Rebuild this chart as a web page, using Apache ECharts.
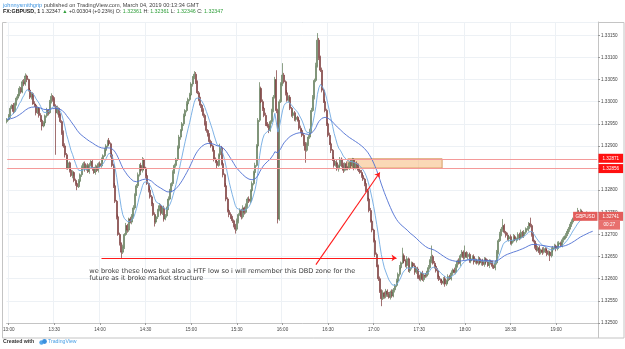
<!DOCTYPE html>
<html><head><meta charset="utf-8">
<script src="https://cdn.jsdelivr.net/npm/echarts@6/dist/echarts.min.js"></script>
<style>html,body{margin:0;padding:0;background:#fff}#c{width:625px;height:349px}</style>
</head><body><div id="c"></div>
<script>
// ---- data (prices as pipette offsets above 1.32000, i.e. 965 -> 1.32965) ----
const basePrice = 1.32;
const startMinute = 12 * 60 + 59;   // first category 12:59
const categoryCount = 389;
const firstOpen = 955;
const closes = [
960,968,985,992,978,995,1008,1015,1030,1022,
1045,1040,1058,1050,1026,1010,1018,995,992,975,
985,969,958,945,952,968,980,975,1000,1012,
1005,990,975,985,970,955,930,900,880,850,
862,845,833,840,822,815,808,820,835,850,
860,848,855,842,858,865,850,840,852,845,
860,855,870,878,890,900,912,905,880,856,
810,775,740,700,680,660,672,700,720,710,
735,728,742,760,790,810,835,856,845,868,
850,833,815,800,785,770,745,728,740,755,
765,748,760,735,742,760,780,799,815,840,
856,870,895,920,935,950,968,980,995,1005,
1015,1040,1055,1062,1045,1020,1005,992,980,969,
950,935,924,910,900,890,870,865,856,880,
895,860,835,810,780,754,745,738,731,720,
712,730,745,754,740,760,750,765,780,775,
799,815,840,856,900,958,1030,1000,985,969,
950,945,935,955,980,1010,1050,980,735,1000,
1040,1060,1045,1020,1003,1010,985,969,975,960,
965,958,940,935,924,905,890,905,920,935,
980,1010,1048,1080,1139,1100,1071,1026,1000,980,
950,924,905,890,870,856,862,848,855,870,
856,845,860,850,849,862,855,868,850,860,
856,845,840,833,825,815,799,780,754,730,
710,686,655,629,600,572,555,568,560,572,
565,558,570,561,575,585,595,610,625,636,
652,640,630,645,618,625,635,629,615,622,
605,600,612,598,608,606,615,625,640,650,
635,628,618,605,598,595,590,600,588,595,
605,600,613,620,615,629,640,635,652,660,
648,659,650,655,640,645,650,638,642,635,
645,636,640,632,645,638,630,640,636,628,
625,636,660,686,700,712,720,705,698,690,
695,680,686,695,688,690,700,692,705,697,
705,712,713,725,720,700,685,674,665,670,
659,665,660,668,663,655,660,652,665,670,
674,668,678,681,675,688,692,697,705,712,
720,728,735,736,742,750,745,752,740,738,
740,748,745,742,738,741];
const upWicks = [
3,4,6,2,5,3,4,2,5,3, 4,6,6,3,2,5,4,3,6,2, 4,3,5,2,4,3,6,3,4,7, 3,5,4,6,2,4,3,5,6,4,
7,3,4,5,3,4,2,5,3,6, 4,5,3,6,4,3,5,2,6,4, 3,5,4,3,6,4,2,6,3,5, 4,6,3,5,4,2,5,3,6,4,
3,5,4,6,3,4,5,3,6,7, 4,3,5,2,6,4,3,5,4,3, 6,4,3,5,4,3,6,4,3,5, 4,3,6,5,3,4,5,3,6,4,
5,4,3,7,5,3,4,6,3,5, 4,6,3,5,4,3,6,4,5,3, 10,5,4,3,6,4,3,5,4,3, 4,6,3,5,4,6,3,5,4,6,
3,5,4,6,4,5,14,4,5,3, 6,4,5,3,4,5,6,21,4,5, 4,27,5,3,6,4,5,3,6,4, 5,3,4,6,3,5,4,3,5,4,
6,5,4,8,16,5,4,6,3,5, 4,3,6,4,3,5,4,6,3,5, 4,6,3,5,4,3,6,5,4,3, 5,4,3,6,4,3,5,4,3,6,
4,3,5,4,3,5,4,6,3,5, 4,5,3,6,4,3,5,4,6,3, 18,5,4,6,3,5,4,3,6,4, 5,4,3,6,4,5,3,6,4,25,
4,5,3,6,4,3,5,4,6,3, 5,4,6,3,5,4,3,6,4,5, 4,16,3,5,4,6,3,5,4,3, 6,4,3,5,4,3,6,4,3,5,
4,6,5,4,6,5,15,4,3,6, 4,5,3,6,4,3,5,4,6,3, 5,4,6,3,13,4,5,3,6,4, 5,3,6,4,3,5,4,3,6,4,
5,3,6,4,3,5,4,6,3,5, 4,6,3,5,4,10,5,6,4,3, 5,4,3,6,4,3];
const downWicks = [
4,3,5,2,6,3,4,5,3,4, 3,5,4,6,3,4,5,2,4,6, 3,5,4,10,3,5,4,6,3,4, 5,3,95,4,6,3,5,4,6,3,
4,5,3,6,4,5,8,3,4,5, 3,6,4,3,5,4,6,3,5,4, 5,3,4,6,3,5,4,3,6,4, 5,4,6,3,5,13,4,5,3,6,
4,3,5,6,4,3,5,4,3,5, 4,6,3,5,4,6,3,10,4,5, 3,5,4,6,3,4,5,3,4,6, 3,5,4,3,6,4,5,3,4,5,
4,3,6,4,5,3,4,6,3,5, 4,5,3,6,4,3,5,4,6,3, 5,4,6,3,5,4,6,3,5,4, 10,4,5,3,6,4,5,3,6,4,
5,3,4,6,3,5,4,3,6,4, 5,4,6,3,5,4,3,6,10,4, 3,5,4,6,3,5,4,3,6,4, 5,3,4,6,4,5,28,3,5,4,
6,3,5,4,3,6,4,5,3,4, 5,4,3,6,4,5,3,4,6,3, 4,6,3,5,4,3,6,4,5,3, 6,4,3,5,4,6,3,5,4,3,
5,4,6,3,5,4,17,3,5,4, 6,3,5,4,3,6,4,3,5,4, 3,5,4,6,3,5,4,3,6,4, 5,4,6,3,5,4,3,6,4,5,
3,5,4,6,3,5,4,3,6,4, 5,3,4,6,3,5,4,3,6,4, 5,4,3,6,4,5,3,6,4,3, 5,4,6,3,5,4,3,6,4,5,
3,6,4,5,3,4,6,3,5,4, 6,3,5,4,3,6,4,5,3,4, 5,4,3,6,4,5,3,6,4,3, 5,4,6,3,5,4,3,12,4,5,
3,6,4,5,3,4,6,3,5,4, 6,3,5,4,3,6,4,5,3,4, 5,3,4,6,3,4];
const xTickLabels = ['13:00','13:30','14:00','14:30','15:00','15:30','16:00','16:30','17:00','17:30','18:00','18:30','19:00'];
const yMin = 1.3250, yMax = 1.3318, yStep = 0.0005;
const fastPeriod = 10, slowPeriod = 50;
const priceLines = [1.32871, 1.32850];
const priceLineTexts = ['1.32871', '1.32856'];
const zone = { from: '16:43', to: '17:45', top: 1.32871, bottom: 1.32850 };
const lastPrice = 1.32741, lastPriceText = '1.32741', symbolText = 'GBPUSD', countdownText = '00:27';
const lowsArrow = { from: '14:01', to: '17:15', price: 1.32647 };
const zoneArrow = { from: ['16:22', 1.32632], to: ['17:04', 1.32840] };
const note = { at: ['13:53', 1.32624], text: 'we broke these lows but also a HTF low so i will remember this DBD zone for the\nfuture as it broke market structure' };

// ---- build ----
const pad = n => String(n).padStart(2, '0');
const cats = Array.from({ length: categoryCount }, (_, i) => { const m = startMinute + i; return pad(Math.floor(m / 60)) + ':' + pad(m % 60); });
const toPrice = v => +(basePrice + v / 100000).toFixed(5);
const candles = closes.map((c, i) => {
  const o = i === 0 ? firstOpen : closes[i - 1];
  const h = Math.max(o, c) + upWicks[i], l = Math.min(o, c) - downWicks[i];
  return [toPrice(o), toPrice(c), toPrice(l), toPrice(h)];
});
function ema(period) {
  const a = 2 / (period + 1); let e = null;
  return closes.map(v => { const p = toPrice(v); e = e === null ? p : a * p + (1 - a) * e; return +e.toFixed(6); });
}
const isTick = (i, v) => xTickLabels.indexOf(v) >= 0;
const AX = '"Liberation Sans", Arial, sans-serif';
const FS = 4.6;
const firstCat = cats[0], lastCat = cats[cats.length - 1];
const hLine = v => [{ coord: [firstCat, v] }, { coord: [lastCat, v] }];

const chart = echarts.init(document.getElementById('c'), null, { renderer: 'canvas' });
const graphics = [
  { type: 'rect', silent: true, shape: { x: 2.5, y: 22.5, width: 621.5, height: 315.5 }, style: { fill: 'none', stroke: '#c4c4c4', lineWidth: 1 } },
  { type: 'line', silent: true, shape: { x1: 598.5, y1: 322, x2: 598.5, y2: 338 }, style: { stroke: '#c4c4c4', lineWidth: 1 } },
  { type: 'text', x: 3, y: 2, style: { text: '{u|johnnysmithgrip}{t| published on TradingView.com, March 04, 2019 00:13:34 GMT}', verticalAlign: 'top',
      rich: { u: { fill: '#3b93e0', fontSize: 5.6, fontFamily: AX }, t: { fill: '#444', fontSize: 5.6, fontFamily: AX } } } },
  { type: 'text', x: 3, y: 9.5, style: { text: '{b|FX:GBPUSD, 1}{d| 1.32347 }{g|▲}{d| +0.00304 (+0.23%) }{d|O:}{g| 1.32361 }{d|H:}{g| 1.32361 }{d|L:}{g| 1.32346 }{d|C:}{g| 1.32347}', verticalAlign: 'top',
      rich: { b: { fill: '#222', fontSize: 5.3, fontWeight: 'bold', fontFamily: AX }, d: { fill: '#333', fontSize: 5.3, fontFamily: AX }, g: { fill: '#2f9e3a', fontSize: 5.3, fontFamily: AX } } } },
  { type: 'text', x: 3, y: 339, style: { text: 'Created with', fill: '#333', fontSize: 5.2, fontWeight: 'bold', fontFamily: AX, verticalAlign: 'top' } },
  { type: 'circle', shape: { cx: 41.5, cy: 342.5, r: 2.2 }, style: { fill: '#56a8ec' } },
  { type: 'circle', shape: { cx: 44.5, cy: 341.5, r: 2.4 }, style: { fill: '#3a90de' } },
  { type: 'text', x: 48, y: 339, style: { text: 'TradingView', fill: '#4aa0e6', fontSize: 5.2, fontFamily: AX, verticalAlign: 'top' } }
];

const option = {
  animation: false,
  backgroundColor: '#ffffff',
  grid: { left: 2, right: 27, top: 22, bottom: 26, show: false },
  xAxis: {
    type: 'category', data: cats, boundaryGap: true,
    axisLine: { lineStyle: { color: '#c4c4c4' } },
    axisTick: { show: true, length: 2, interval: isTick, alignWithLabel: true, lineStyle: { color: '#999' } },
    axisLabel: { interval: isTick, fontSize: FS, color: '#444', margin: 4, fontFamily: AX },
    splitLine: { show: true, interval: isTick, lineStyle: { color: '#edf1f5', width: 1 } }
  },
  yAxis: {
    type: 'value', position: 'right', min: yMin, max: yMax, interval: yStep,
    axisLine: { show: true, lineStyle: { color: '#c4c4c4' } },
    axisTick: { show: true, length: 2, lineStyle: { color: '#999' } },
    axisLabel: { fontSize: FS, color: '#444', margin: 3, fontFamily: AX, showMaxLabel: false, formatter: v => v.toFixed(5) },
    splitLine: { show: true, lineStyle: { color: '#edf1f5', width: 1 } }
  },
  series: [
    {
      type: 'candlestick', data: candles, barWidth: 1.5, silent: true,
      itemStyle: { color: '#a3a89f', color0: '#aa9c9c', borderColor: '#5e7a55', borderColor0: '#7a3434', borderWidth: 0.7 },
      markArea: {
        silent: true,
        itemStyle: { color: 'rgba(246,178,110,0.5)', borderColor: '#cf8d4c', borderWidth: 0.8 },
        data: [[{ xAxis: zone.from, yAxis: zone.top }, { xAxis: zone.to, yAxis: zone.bottom }]]
      }
    },
    {
      type: 'line', data: ema(fastPeriod), showSymbol: false, symbol: 'none', silent: true,
      lineStyle: { color: '#6fa9e2', width: 0.9 },
      markLine: {
        silent: true, symbol: ['none', 'arrow'], symbolSize: [5, 5], animation: false,
        label: { show: false },
        lineStyle: { color: '#ff1a1a', width: 1.1, type: 'solid' },
        data: [
          [{ coord: [lowsArrow.from, lowsArrow.price] }, { coord: [lowsArrow.to, lowsArrow.price] }],
          [{ coord: zoneArrow.from }, { coord: zoneArrow.to }]
        ]
      }
    },
    {
      type: 'line', data: ema(slowPeriod), showSymbol: false, symbol: 'none', silent: true,
      lineStyle: { color: '#4e6fd3', width: 0.9 },
      markLine: {
        silent: true, symbol: ['none', 'none'], animation: false,
        label: { show: false },
        lineStyle: { color: '#f49a9a', width: 1, type: 'solid' },
        data: priceLines.map(hLine)
      }
    }
  ],
  graphic: graphics
};
chart.setOption(option);

// labels placed through the axis scale
const toPx = (cat, v) => chart.convertToPixel({ xAxisIndex: 0, yAxisIndex: 0 }, [cats.indexOf(cat), v]);
const axisX = toPx(lastCat, yMin)[0] + (toPx(lastCat, yMin)[0] - toPx(cats[cats.length - 2], yMin)[0]) / 2;
const boxLabel = (x, yMid, txt, bg, align, padX) => ({
  type: 'text', x: x, y: yMid, silent: true, z: 50,
  style: { text: txt, fill: '#fff', backgroundColor: bg, fontSize: FS, fontFamily: AX, padding: [2.2, padX, 1.8, padX], align: align, verticalAlign: 'middle' }
});
priceLines.forEach((v, i) => {
  const y = toPx(lastCat, v)[1];
  graphics.push(boxLabel(axisX + 0.5, y + (i === 0 ? -0.5 : 0.5), priceLineTexts[i], '#ff1010', 'left', 4));
});
const ly = toPx(lastCat, lastPrice)[1];
graphics.push(boxLabel(axisX + 0.5, ly, lastPriceText, '#e35d5b', 'left', 4));
graphics.push(boxLabel(axisX - 0.5, ly, symbolText, '#e35d5b', 'right', 2.5));
graphics.push(boxLabel(axisX + 0.5, ly + 8.8, countdownText, '#e8706e', 'left', 5));
const np = toPx(note.at[0], note.at[1]);
graphics.push({ type: 'text', x: np[0], y: np[1], silent: true, z: 100,
  style: { text: note.text, fill: '#3a3a3a', fontSize: 6.6, fontFamily: '"DejaVu Sans", Verdana, sans-serif', lineHeight: 6.8, verticalAlign: 'top' } });
chart.setOption({ graphic: graphics });
</script></body></html>
